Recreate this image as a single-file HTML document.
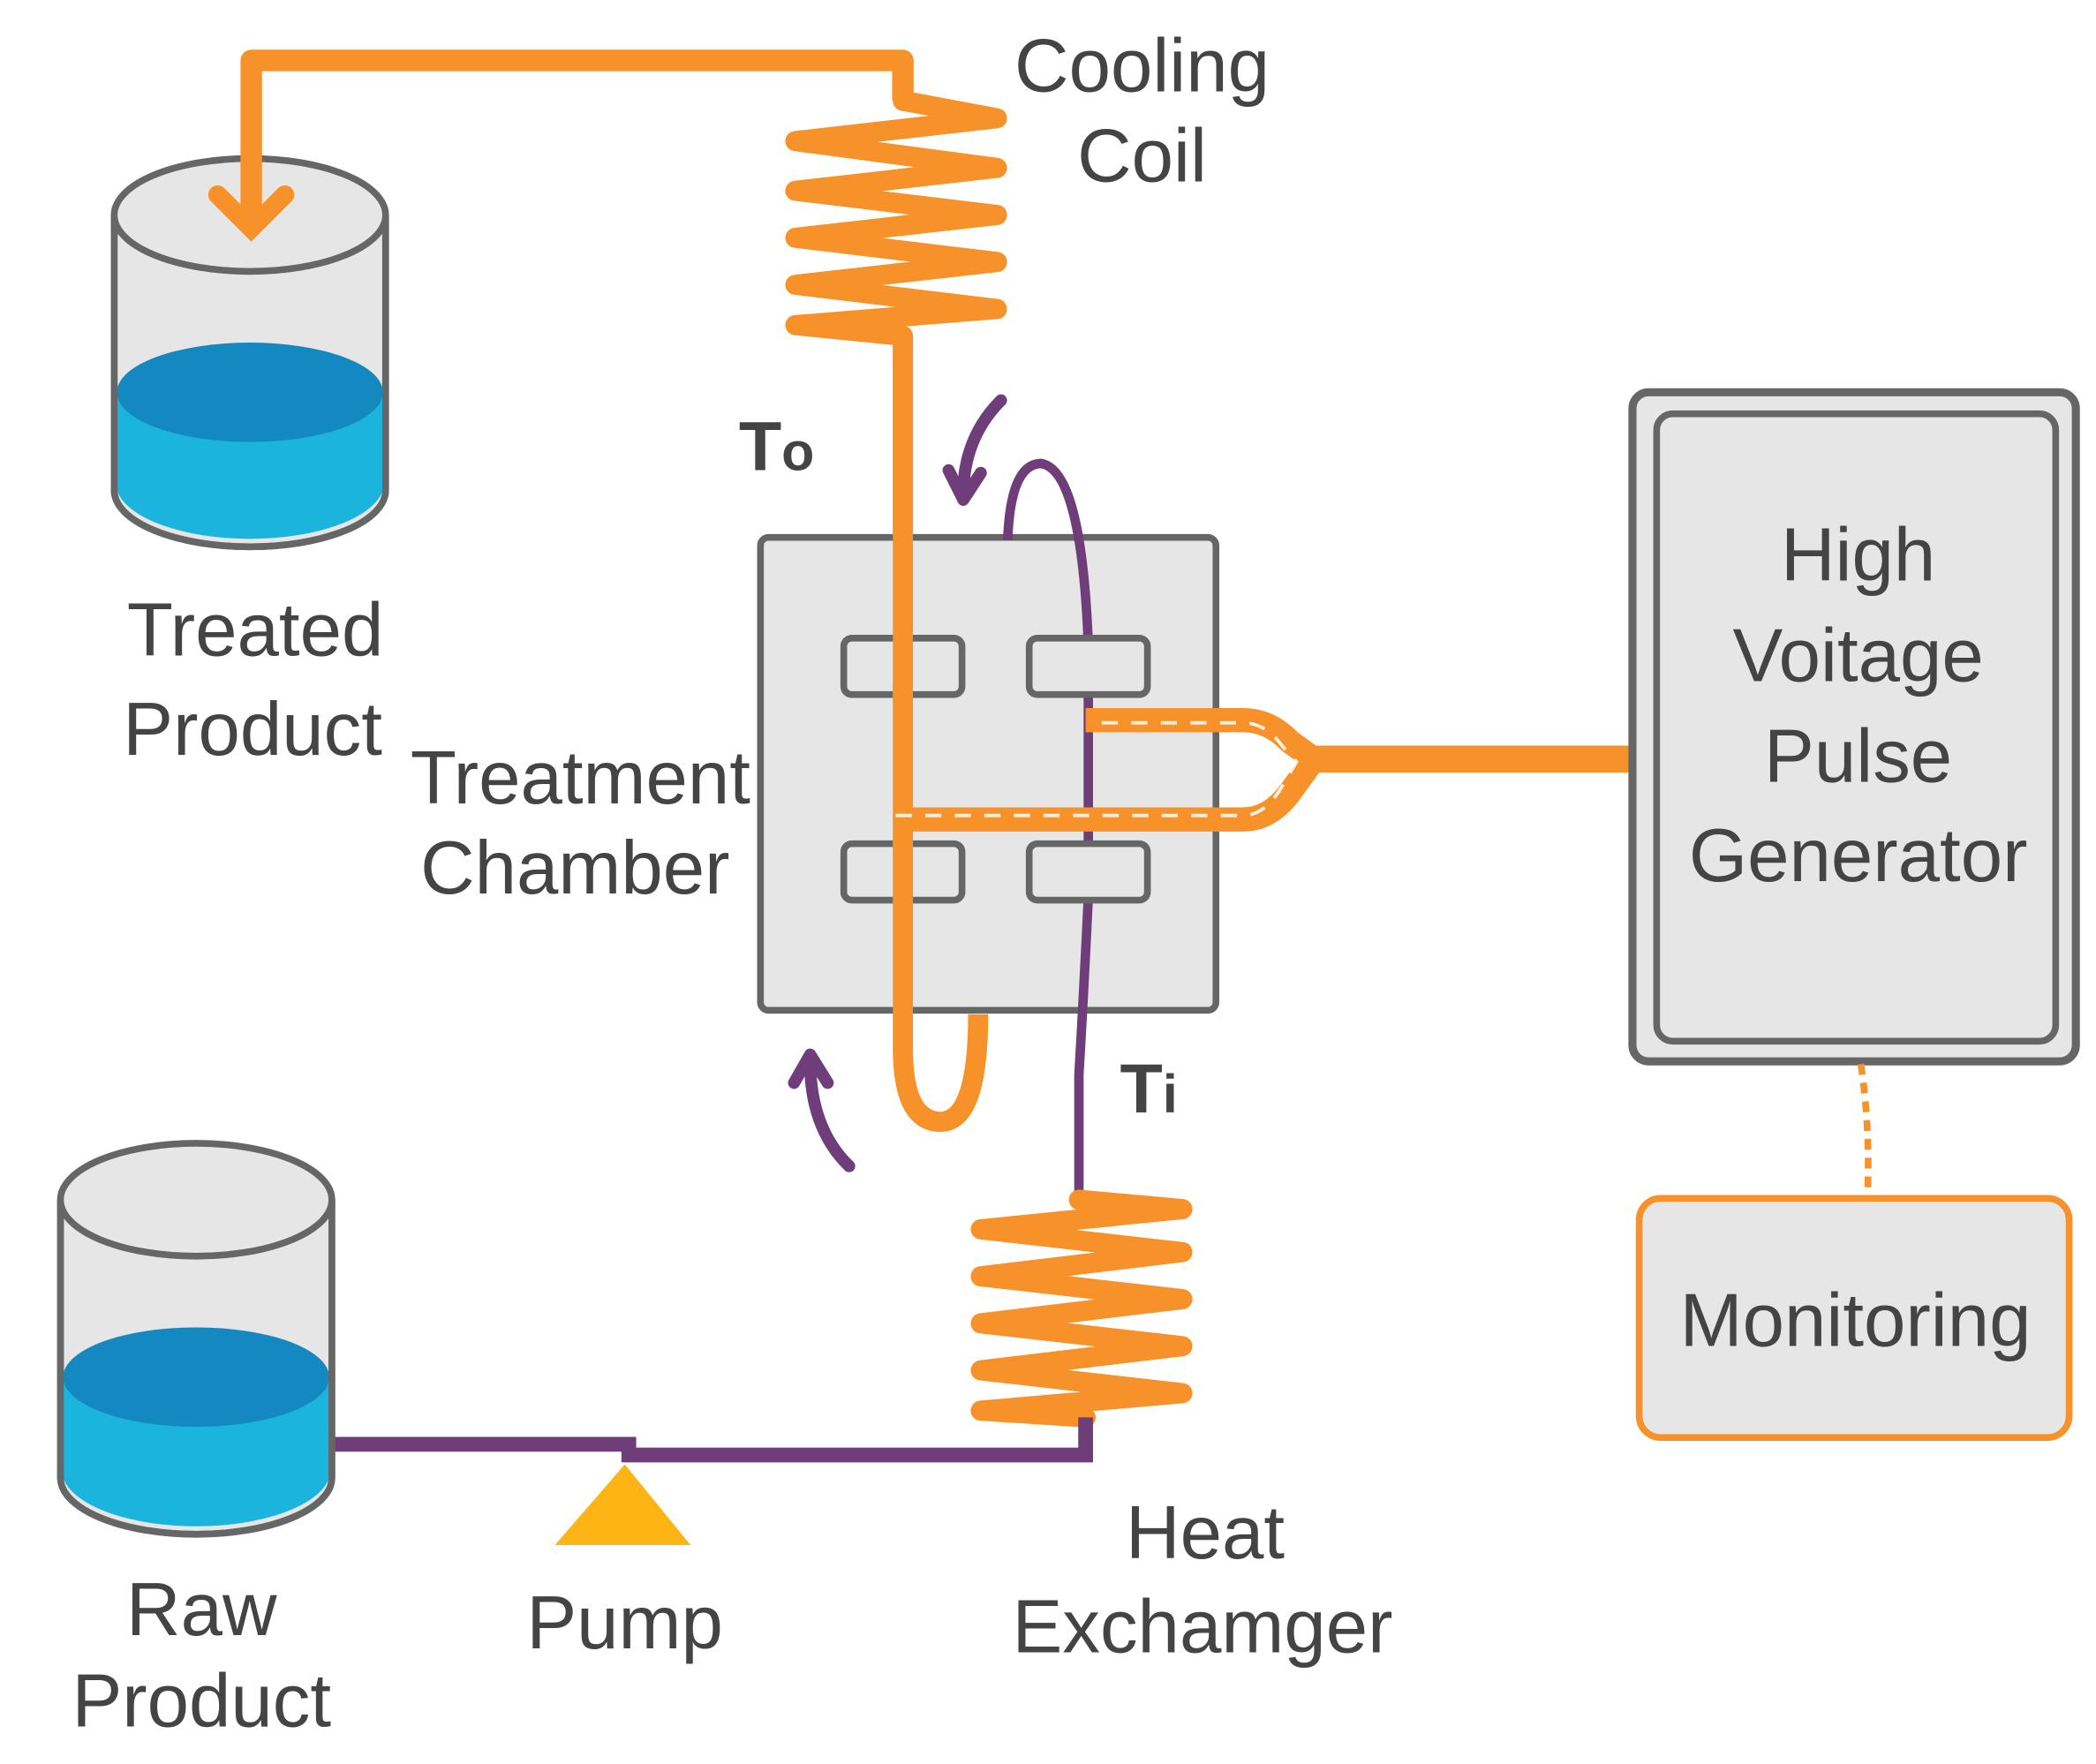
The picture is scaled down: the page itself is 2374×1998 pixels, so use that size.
<!DOCTYPE html>
<html><head><meta charset="utf-8"><style>
html,body{margin:0;padding:0;background:#fff;}
svg{display:block;}
text{font-family:"Liberation Sans",sans-serif;fill:#444;}
</style></head><body>
<svg width="2374" height="1998" viewBox="0 0 1560 1313" preserveAspectRatio="none" xmlns="http://www.w3.org/2000/svg">
<rect width="1560" height="1313" fill="#fff"/>
<!-- Treated product cylinder -->
<path d="M85,160 V365 A101,42 0 0 0 287,365 V160" fill="#e6e6e6" stroke="#666" stroke-width="5"/>
<path d="M87,292 V365 A100,42 0 0 0 285,365 V292 Z" fill="#1ab4dc"/>
<ellipse cx="186" cy="292" rx="99" ry="37" fill="#1488c0"/>
<path d="M85,160 V365 A101,42 0 0 0 287,365 V160" fill="none" stroke="#666" stroke-width="5"/>
<ellipse cx="186" cy="160" rx="101" ry="42" fill="#e6e6e6" stroke="#666" stroke-width="5"/>
<!-- orange top pipe -->
<path d="M187,165 V45 H672 V75" fill="none" stroke="#f7922b" stroke-width="16" stroke-linejoin="round"/>
<path d="M162,145 L187,170 L212,145" fill="none" stroke="#f7922b" stroke-width="14" stroke-linecap="round"/>
<!-- cooling coil -->
<path d="M672,75 L742,88 L592,105 L742,125 L592,142 L742,160 L592,177 L742,195 L592,212 L742,230 L592,242 L672,250 V605" fill="none" stroke="#f7922b" stroke-width="15" stroke-linejoin="round" stroke-linecap="round"/>
<text x="850" y="68" font-size="56" text-anchor="middle">Cooling</text>
<text x="850" y="135" font-size="56" text-anchor="middle">Coil</text>
<text x="578" y="350" font-size="52" font-weight="bold" text-anchor="middle">T<tspan font-size="40">o</tspan></text>
<!-- purple curved arrows -->
<path d="M745,298 Q718,325 717,365" fill="none" stroke="#6e3d7a" stroke-width="9" stroke-linecap="round"/>
<path d="M706,350 L717,372 L730,352" fill="none" stroke="#6e3d7a" stroke-width="9" stroke-linecap="round" stroke-linejoin="round"/>
<path d="M632,868 Q603,840 603,790" fill="none" stroke="#6e3d7a" stroke-width="9" stroke-linecap="round"/>
<path d="M591,806 L603,785 L616,806" fill="none" stroke="#6e3d7a" stroke-width="9" stroke-linecap="round" stroke-linejoin="round"/>
<!-- chamber -->
<rect x="566" y="400" width="339" height="352" rx="6" fill="#e6e6e6" stroke="#666" stroke-width="5"/>
<!-- purple loop + vertical -->
<path d="M750,402 Q752,345 775,345 Q805,350 810,480" fill="none" stroke="#6e3d7a" stroke-width="7"/>
<path d="M810,475 V630 M810,668 Q806,750 803,800 V893" fill="none" stroke="#6e3d7a" stroke-width="7"/>
<!-- electrodes -->
<rect x="628" y="475" width="88" height="42" rx="6" fill="#e6e6e6" stroke="#666" stroke-width="5"/>
<rect x="766" y="475" width="88" height="42" rx="6" fill="#e6e6e6" stroke="#666" stroke-width="5"/>
<rect x="628" y="628" width="88" height="42" rx="6" fill="#e6e6e6" stroke="#666" stroke-width="5"/>
<rect x="766" y="628" width="88" height="42" rx="6" fill="#e6e6e6" stroke="#666" stroke-width="5"/>
<!-- orange vertical + U loop (over electrodes) -->
<path d="M672,250 V780 Q672,835 700,835 Q728,835 728,755" fill="none" stroke="#f7922b" stroke-width="15"/>
<!-- fork electrode cable -->
<path d="M808,536 H925 Q945,536 960,552 L978,565 L960,590 Q945,610 925,610 H665" fill="none" stroke="#f7922b" stroke-width="18" stroke-linejoin="round"/>
<path d="M820,538 H925 Q942,538 955,556 L965,567 L955,584 Q942,607 925,607 H665" fill="none" stroke="#fff" stroke-width="2.5" stroke-dasharray="12,10" opacity="0.85"/>
<path d="M970,565 H1215" stroke="#f7922b" stroke-width="20"/>
<text x="855" y="828" font-size="52" font-weight="bold" text-anchor="middle">T<tspan font-size="40">i</tspan></text>
<!-- heat exchanger coil -->
<path d="M803,893 L880,900 L730,915 L880,932 L730,950 L880,967 L730,985 L880,1002 L730,1020 L880,1037 L730,1050 L808,1055" fill="none" stroke="#f7922b" stroke-width="15" stroke-linejoin="round" stroke-linecap="round"/>
<!-- purple bottom line -->
<path d="M808,1055 V1083 H468 V1075 H245" fill="none" stroke="#6e3d7a" stroke-width="11"/>
<!-- pump -->
<polygon points="413,1150 514,1150 465,1090" fill="#fdb515"/>
<!-- Raw product cylinder -->
<path d="M45,893 V1100 A101,42 0 0 0 247,1100 V893" fill="#e6e6e6" stroke="#666" stroke-width="5"/>
<path d="M47,1025 V1100 A100,42 0 0 0 245,1100 V1025 Z" fill="#1ab4dc"/>
<ellipse cx="146" cy="1025" rx="99" ry="37" fill="#1488c0"/>
<path d="M45,893 V1100 A101,42 0 0 0 247,1100 V893" fill="none" stroke="#666" stroke-width="5"/>
<ellipse cx="146" cy="893" rx="101" ry="42" fill="#e6e6e6" stroke="#666" stroke-width="5"/>
<!-- HV generator -->
<rect x="1215" y="292" width="330" height="498" rx="12" fill="#e6e6e6" stroke="#666" stroke-width="6"/>
<rect x="1233" y="308" width="297" height="467" rx="12" fill="#e6e6e6" stroke="#666" stroke-width="5"/>
<text x="1383" y="432" font-size="56" text-anchor="middle">High</text>
<text x="1383" y="507" font-size="56" text-anchor="middle">Voitage</text>
<text x="1383" y="582" font-size="56" text-anchor="middle">Pulse</text>
<text x="1383" y="656" font-size="56" text-anchor="middle">Generator</text>
<path d="M1385,792 Q1392,840 1390,888" fill="none" stroke="#f7922b" stroke-width="5" stroke-dasharray="8,6"/>
<rect x="1220" y="892" width="320" height="178" rx="16" fill="#e6e6e6" stroke="#f7922b" stroke-width="5"/>
<text x="1381" y="1002" font-size="56" text-anchor="middle">Monitoring</text>
<!-- labels -->
<text x="190" y="488" font-size="56" text-anchor="middle">Treated</text>
<text x="188" y="562" font-size="56" text-anchor="middle">Product</text>
<text x="432" y="598" font-size="56" text-anchor="middle">Treatment</text>
<text x="428" y="665" font-size="56" text-anchor="middle">Chamber</text>
<text x="150" y="1217" font-size="56" text-anchor="middle">Raw</text>
<text x="150" y="1285" font-size="56" text-anchor="middle">Product</text>
<text x="465" y="1227" font-size="56" text-anchor="middle">Pump</text>
<text x="897" y="1160" font-size="56" text-anchor="middle">Heat</text>
<text x="895" y="1230" font-size="56" text-anchor="middle">Exchamger</text>
</svg>
</body></html>
